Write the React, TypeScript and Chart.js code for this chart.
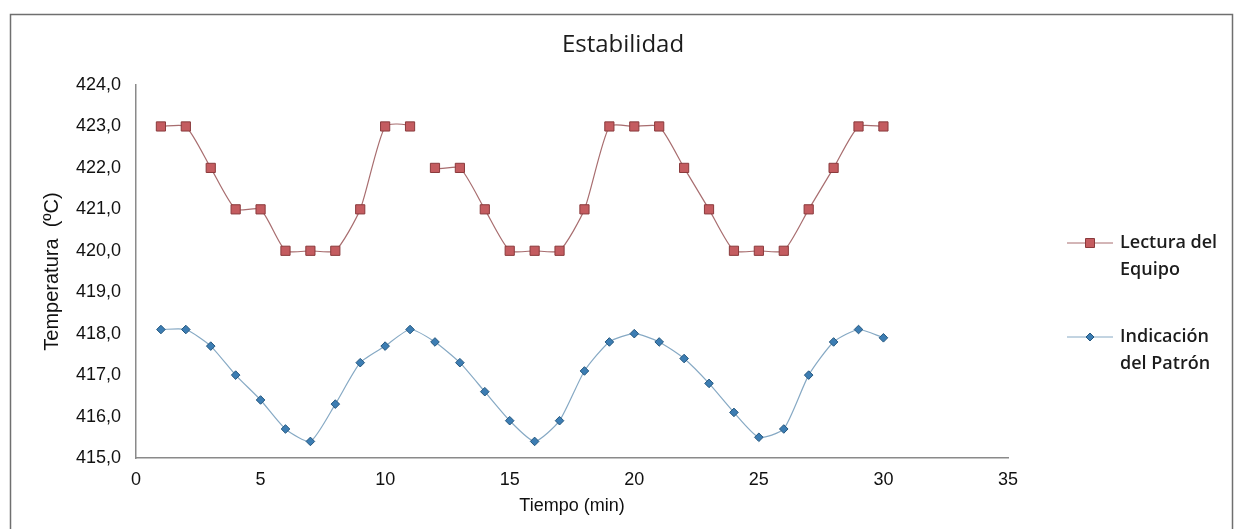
import { useEffect, useRef } from "react";
import { Chart, registerables } from "chart.js";

Chart.register(...registerables);

const TITLE = "Estabilidad";
const X_TITLE = "Tiempo (min)";
const Y_TITLE = "Temperatura  (ºC)";

const tiempo = [1, 2, 3, 4, 5, 6, 7, 8, 9, 10, 11, 12, 13, 14, 15, 16, 17, 18, 19, 20, 21, 22, 23, 24, 25, 26, 27, 28, 29, 30];
const lecturaEquipo = [423, 423, 422, 421, 421, 420, 420, 420, 421, 423, 423, 422, 422, 421, 420, 420, 420, 421, 423, 423, 423, 422, 421, 420, 420, 420, 421, 422, 423, 423];
const indicacionPatron = [418.1, 418.1, 417.7, 417.0, 416.4, 415.7, 415.4, 416.3, 417.3, 417.7, 418.1, 417.8, 417.3, 416.6, 415.9, 415.4, 415.9, 417.1, 417.8, 418.0, 417.8, 417.4, 416.8, 416.1, 415.5, 415.7, 417.0, 417.8, 418.1, 417.9];
// the "Lectura del Equipo" line is broken after this point in the original
const lecturaGapAfterIndex = 10;

const seriesNames = ["Lectura del Equipo", "Indicación del Patrón"];
const legendLines = [["Lectura del", "Equipo"], ["Indicación", "del Patrón"]];

const xRange = [0, 35];
const xStep = 5;
const yRange = [415, 424];
const yStep = 1;

const RED_LINE = "#a86d6f";
const RED_FILL = "#c45c60";
const RED_EDGE = "#8a3a3c";
const BLUE_LINE = "#86a9c4";
const BLUE_FILL = "#3c7db3";
const BLUE_EDGE = "#24577f";

const tickFont = { family: '"Liberation Sans", Arial, sans-serif', size: 18 };

const decorPlugin = {
  id: "decor",
  beforeDraw(chart: any) {
    const ctx = chart.ctx;
    ctx.save();
    ctx.fillStyle = "#ffffff";
    ctx.fillRect(0, 0, chart.width, chart.height);
    ctx.restore();
  },
  afterDraw(chart: any) {
    const ctx = chart.ctx;
    ctx.save();
    // outer frame
    ctx.strokeStyle = "#6f6f6f";
    ctx.lineWidth = 1.5;
    ctx.strokeRect(10.5, 14.5, 1222, 540);
    // title
    ctx.fillStyle = "#1c1c1c";
    ctx.font = '24px "Open Sans", sans-serif';
    ctx.textAlign = "center";
    ctx.textBaseline = "middle";
    ctx.fillText(TITLE, 623, 45);
    // legend
    const rows = [243, 337];
    chart.data.datasets.forEach((ds: any, i: number) => {
      const y = rows[i];
      ctx.strokeStyle = ds.borderColor;
      ctx.lineWidth = 1;
      ctx.beginPath();
      ctx.moveTo(1067, y);
      ctx.lineTo(1113, y);
      ctx.stroke();
      ctx.fillStyle = ds.pointBackgroundColor;
      ctx.strokeStyle = ds.pointBorderColor;
      ctx.beginPath();
      if (ds.pointStyle === "rect") {
        ctx.rect(1090 - 4.5, y - 4.5, 9, 9);
      } else {
        ctx.moveTo(1090, y - 4);
        ctx.lineTo(1094, y);
        ctx.lineTo(1090, y + 4);
        ctx.lineTo(1086, y);
        ctx.closePath();
      }
      ctx.fill();
      ctx.stroke();
      ctx.fillStyle = "#1c1c1c";
      ctx.font = '600 18px "Open Sans", sans-serif';
      ctx.textAlign = "left";
      ctx.textBaseline = "middle";
      legendLines[i].forEach((t, j) => ctx.fillText(t, 1120, y + j * 27));
    });
    ctx.restore();
  },
};

export default function App() {
  const ref = useRef<HTMLCanvasElement | null>(null);
  useEffect(() => {
    if (!ref.current) return;
    const chart = new Chart(ref.current, {
      type: "line",
      data: {
        datasets: [
          {
            label: seriesNames[0],
            data: tiempo.map((t, i) => ({ x: t, y: lecturaEquipo[i] })),
            borderColor: RED_LINE,
            borderWidth: 1.2,
            tension: 0.2,
            pointStyle: "rect",
            pointRadius: 6.5,
            pointBackgroundColor: RED_FILL,
            pointBorderColor: RED_EDGE,
            pointBorderWidth: 1,
            segment: {
              borderColor: (c: any) => (c.p0DataIndex === lecturaGapAfterIndex ? "rgba(0,0,0,0)" : undefined),
            },
          } as any,
          {
            label: seriesNames[1],
            data: tiempo.map((t, i) => ({ x: t, y: indicacionPatron[i] })),
            borderColor: BLUE_LINE,
            borderWidth: 1.2,
            tension: 0.2,
            pointStyle: "rectRot",
            pointRadius: 4.3,
            pointBackgroundColor: BLUE_FILL,
            pointBorderColor: BLUE_EDGE,
            pointBorderWidth: 1,
          } as any,
        ],
      },
      options: {
        animation: false,
        responsive: false,
        maintainAspectRatio: false,
        layout: { padding: { top: 85, right: 228, left: 0, bottom: 0 } },
        plugins: {
          legend: { display: false },
          title: { display: false },
          tooltip: { enabled: false },
        },
        scales: {
          x: {
            type: "linear",
            min: xRange[0],
            max: xRange[1],
            ticks: { stepSize: xStep, padding: 11, font: tickFont, color: "#111" },
            grid: { display: false, drawTicks: false },
            border: { color: "#8a8a8a", width: 1.5 },
            title: { display: true, text: X_TITLE, font: tickFont, color: "#111", padding: { top: 0, bottom: 12 } },
            afterFit: (s: any) => {
              s.height = 71;
            },
          },
          y: {
            type: "linear",
            min: yRange[0],
            max: yRange[1],
            ticks: {
              stepSize: yStep,
              padding: 15,
              font: tickFont,
              color: "#111",
              callback: (v: any) => Number(v).toFixed(1).replace(".", ","),
            },
            grid: { display: false, drawTicks: false },
            border: { color: "#8a8a8a", width: 1.5 },
            title: { display: true, text: Y_TITLE, font: { ...tickFont, size: 20 }, color: "#111", padding: { top: 40, bottom: 0 } },
            afterFit: (s: any) => {
              s.width = 136;
            },
          },
        },
      } as any,
      plugins: [decorPlugin],
    });
    return () => chart.destroy();
  }, []);
  return (
    <div style={{ position: "fixed", left: 0, top: 0, width: 1236, height: 529 }}>
      <canvas ref={ref} width={1236} height={529} style={{ display: "block" }} />
    </div>
  );
}
